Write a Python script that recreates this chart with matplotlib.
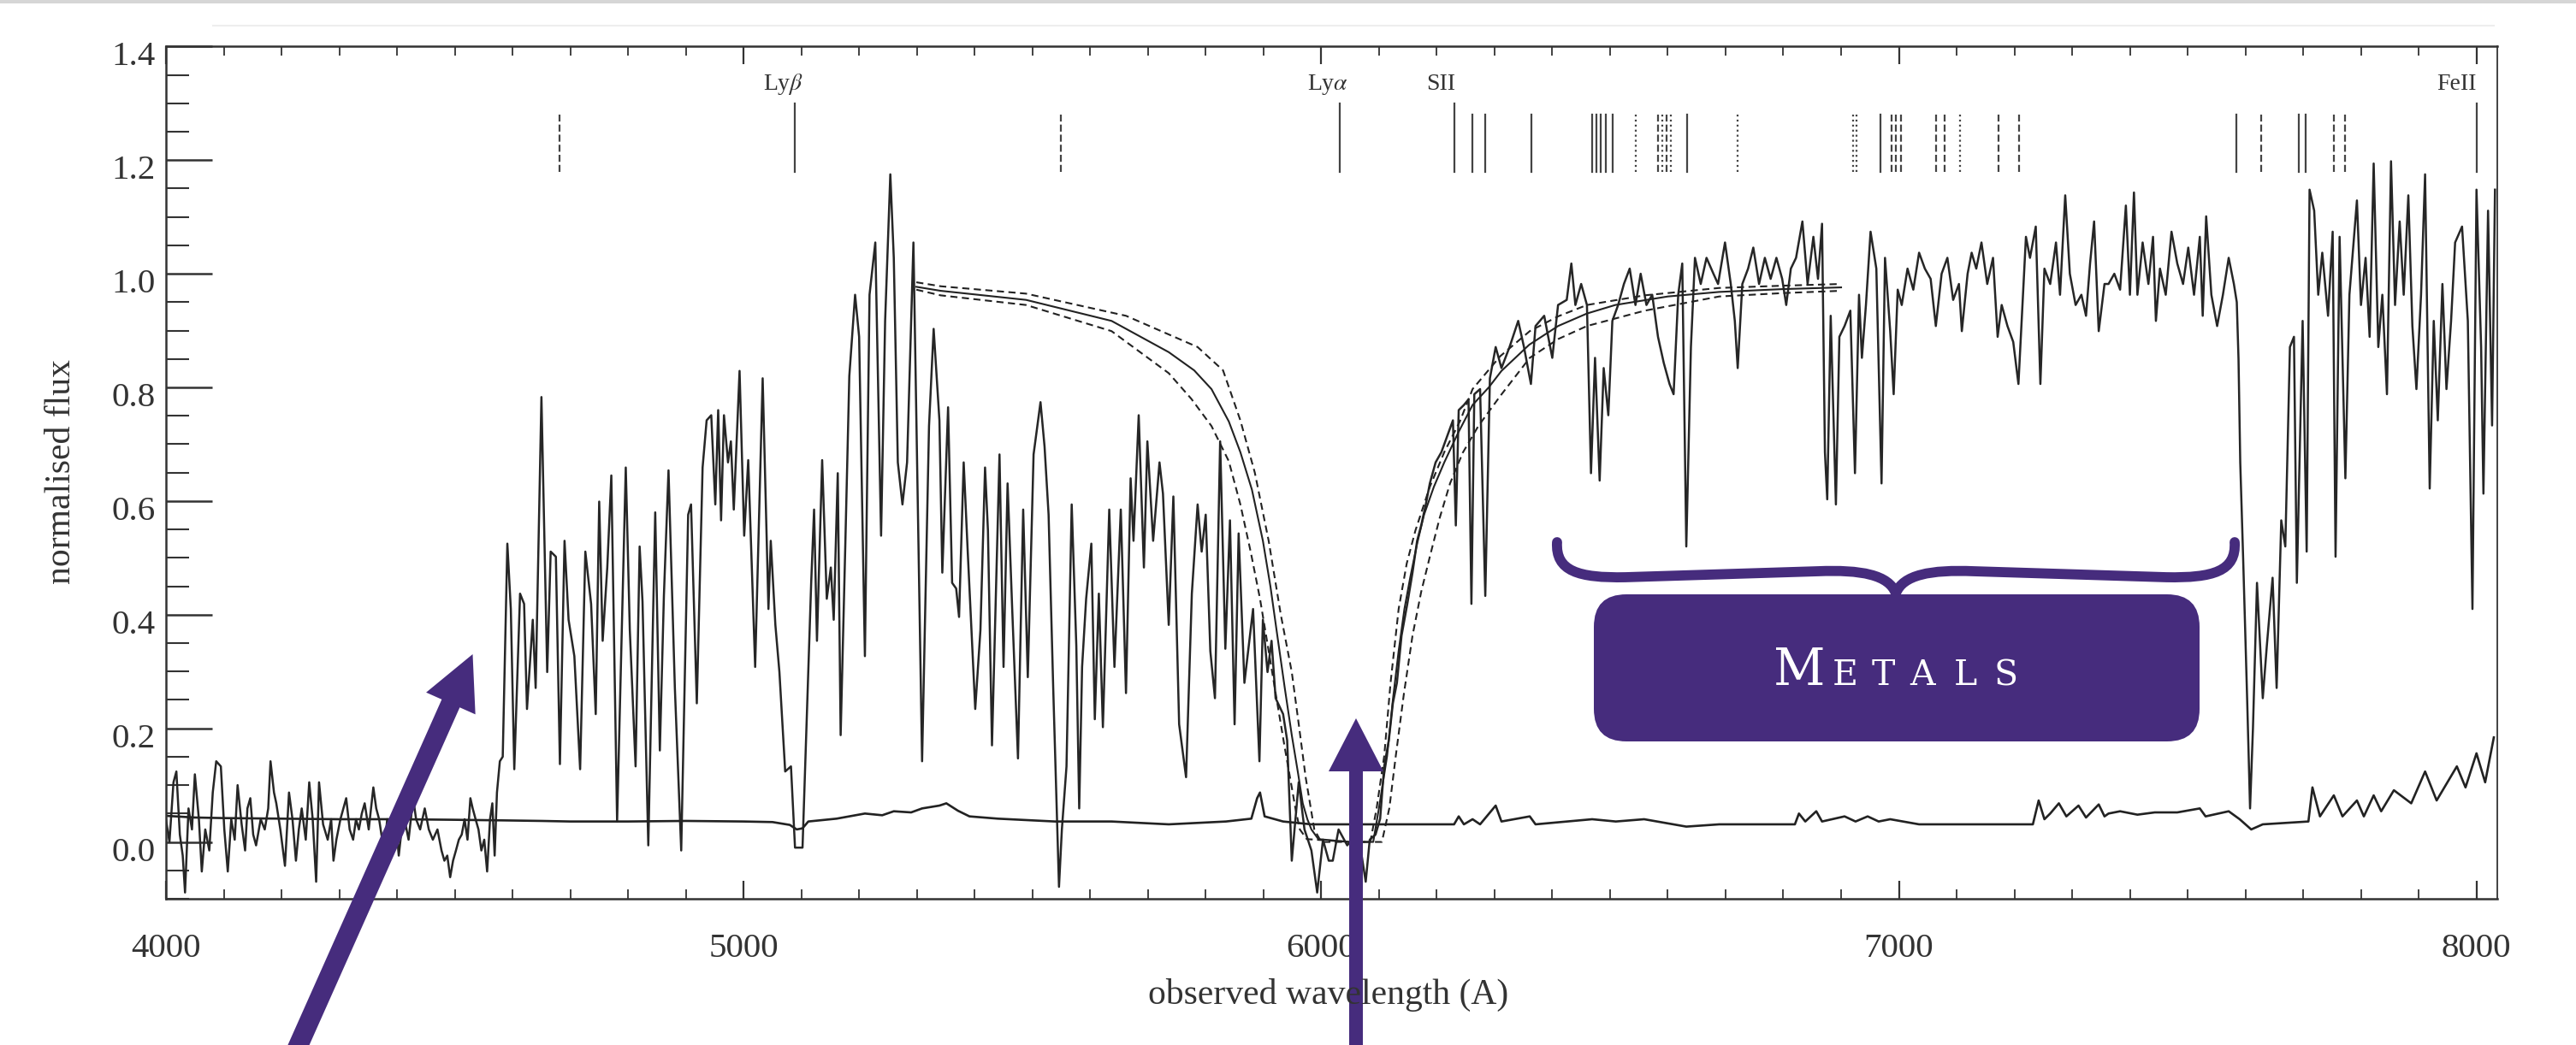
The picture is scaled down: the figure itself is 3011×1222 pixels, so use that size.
import matplotlib
matplotlib.use('Agg')
import matplotlib.pyplot as plt
import matplotlib.transforms as mtransforms
from matplotlib.patches import FancyArrow, FancyBboxPatch, PathPatch, Rectangle
from matplotlib.path import Path
from matplotlib.ticker import MultipleLocator, FormatStrFormatter

W, H = 3011, 1222
purple = '#462c7d'
ink = '#333333'

# observed spectrum (wavelength in A, normalised flux)
spectrum = [
    (4000, 0.040), (4006, 0.000), (4013, 0.105), (4018, 0.124), (4024, 0.013), (4029, -0.024), (4033, -0.089),
    (4039, 0.059), (4045, 0.022), (4050, 0.119), (4057, 0.040), (4062, -0.052), (4068, 0.022), (4075, -0.015),
    (4081, 0.087), (4087, 0.142), (4095, 0.133), (4101, 0.022), (4107, -0.052), (4113, 0.040), (4119, 0.004),
    (4124, 0.100), (4131, 0.031), (4137, -0.015), (4141, 0.059), (4146, 0.077), (4151, 0.013), (4156, -0.006),
    (4164, 0.040), (4171, 0.022), (4177, 0.059), (4181, 0.142), (4187, 0.087), (4191, 0.068), (4198, 0.022),
    (4206, -0.042), (4213, 0.087), (4219, 0.040), (4225, -0.033), (4230, 0.022), (4235, 0.059), (4242, 0.004),
    (4248, 0.105), (4254, 0.040), (4260, -0.070), (4265, 0.105), (4272, 0.031), (4280, 0.004), (4286, 0.040),
    (4290, -0.033), (4295, 0.004), (4302, 0.040), (4312, 0.077), (4318, 0.022), (4324, 0.004), (4329, 0.040),
    (4334, 0.022), (4339, 0.050), (4344, 0.068), (4351, 0.022), (4359, 0.096), (4364, 0.059), (4369, 0.040),
    (4373, 0.013), (4378, -0.015), (4383, 0.040), (4388, 0.022), (4396, 0.059), (4403, -0.024), (4408, 0.022),
    (4413, 0.040), (4420, 0.004), (4428, 0.077), (4433, 0.040), (4440, 0.022), (4448, 0.059), (4455, 0.022),
    (4462, 0.004), (4470, 0.022), (4477, -0.015), (4482, -0.033), (4487, -0.024), (4492, -0.062), (4497, -0.033),
    (4502, -0.015), (4507, 0.004), (4512, 0.013), (4517, 0.040), (4522, 0.004), (4527, 0.077), (4531, 0.059),
    (4536, 0.040), (4541, 0.022), (4546, -0.015), (4551, 0.004), (4556, -0.052), (4561, 0.040), (4565, 0.068),
    (4569, -0.024), (4573, 0.087), (4578, 0.142), (4583, 0.150), (4591, 0.525), (4597, 0.410), (4603, 0.128),
    (4613, 0.437), (4620, 0.419), (4625, 0.234), (4635, 0.391), (4640, 0.271), (4650, 0.783), (4660, 0.299),
    (4666, 0.511),
    (4675, 0.502), (4682, 0.137), (4690, 0.530), (4697, 0.391), (4707, 0.327), (4717, 0.128), (4726, 0.511),
    (4736, 0.419), (4744, 0.225), (4750, 0.599), (4756, 0.354), (4764, 0.483), (4771, 0.645), (4781, 0.036),
    (4796, 0.659), (4803, 0.373), (4813, 0.133), (4820, 0.520), (4825, 0.423), (4835, -0.006), (4847, 0.580),
    (4855, 0.161), (4862, 0.433), (4870, 0.654), (4881, 0.271), (4892, -0.015), (4904, 0.576), (4909, 0.594),
    (4919, 0.244), (4929, 0.659), (4936, 0.742), (4944, 0.751), (4951, 0.594), (4956, 0.760), (4961, 0.566),
    (4966, 0.751), (4973, 0.668), (4978, 0.705), (4983, 0.585), (4993, 0.829), (5001, 0.539), (5008, 0.672),
    (5020, 0.308), (5033, 0.816), (5043, 0.410), (5047, 0.530), (5055, 0.382), (5062, 0.299), (5072, 0.124),
    (5082, 0.133), (5089, -0.010), (5102, -0.010), (5109, 0.207), (5117, 0.456), (5122, 0.585), (5127, 0.354),
    (5136, 0.672), (5144, 0.428), (5151, 0.483), (5156, 0.391), (5163, 0.649), (5168, 0.188), (5176, 0.520),
    (5183, 0.820), (5193, 0.963), (5200, 0.889), (5210, 0.327), (5218, 0.963), (5228, 1.055), (5238, 0.539),
    (5245, 0.917), (5254, 1.175), (5260, 1.028), (5267, 0.668), (5275, 0.594), (5283, 0.668), (5294, 1.055),
    (5309, 0.142), (5321, 0.732), (5329, 0.903), (5339, 0.742),
    (5344, 0.474), (5354, 0.765), (5361, 0.456), (5368, 0.446), (5373, 0.396), (5381, 0.668), (5388, 0.511),
    (5401, 0.234), (5410, 0.373), (5418, 0.659), (5423, 0.548), (5430, 0.170), (5443, 0.682), (5450, 0.308),
    (5457, 0.631), (5465, 0.410), (5475, 0.147), (5484, 0.585), (5492, 0.290), (5502, 0.682), (5514, 0.774),
    (5521, 0.696), (5528, 0.576), (5536, 0.271), (5546, -0.079), (5551, 0.022), (5559, 0.133), (5568, 0.594),
    (5576, 0.345), (5581, 0.059), (5586, 0.308), (5593, 0.428), (5602, 0.525), (5608, 0.216), (5615, 0.437),
    (5622, 0.202), (5633, 0.585), (5642, 0.308), (5653, 0.585), (5662, 0.262), (5670, 0.640), (5675, 0.530),
    (5684, 0.751), (5693, 0.483), (5699, 0.705), (5709, 0.530), (5720, 0.668), (5726, 0.613), (5736, 0.382),
    (5744, 0.608), (5754, 0.207), (5766, 0.114), (5776, 0.437), (5786, 0.594), (5793, 0.511), (5800, 0.576),
    (5808, 0.336), (5816, 0.253), (5825, 0.705), (5834, 0.340), (5842, 0.566), (5850, 0.207), (5857, 0.543),
    (5867, 0.280), (5882, 0.410), (5893, 0.142), (5899, 0.391), (5907, 0.299), (5914, 0.354), (5921, 0.253),
    (5934, 0.225), (5941, 0.179), (5949, -0.033), (5961, 0.105), (5971, 0.022), (5983, -0.015), (5993, -0.089),
    (6003, 0.004), (6013, -0.033),
    (6020, -0.033), (6030, 0.022), (6045, -0.006), (6060, 0.013), (6070, -0.024), (6077, -0.070), (6084, 0.004),
    (6094, 0.013), (6102, 0.041), (6109, 0.133), (6117, 0.179), (6124, 0.244), (6131, 0.280), (6139, 0.363),
    (6149, 0.419), (6158, 0.474), (6166, 0.530), (6173, 0.557), (6181, 0.594), (6188, 0.631), (6198, 0.668),
    (6208, 0.686), (6218, 0.714), (6228, 0.742), (6233, 0.557), (6238, 0.760), (6247, 0.769), (6255, 0.779),
    (6260, 0.419), (6265, 0.788), (6275, 0.797), (6284, 0.433), (6292, 0.816), (6302, 0.871), (6312, 0.834),
    (6326, 0.871), (6341, 0.917), (6351, 0.871), (6363, 0.806), (6371, 0.908), (6386, 0.926), (6400, 0.852),
    (6410, 0.945), (6425, 0.954), (6433, 1.018), (6440, 0.945), (6450, 0.982), (6460, 0.945), (6467, 0.649),
    (6474, 0.852), (6482, 0.636), (6489, 0.834), (6497, 0.751), (6504, 0.917), (6514, 0.945), (6524, 0.982),
    (6534, 1.009), (6544, 0.945), (6553, 1.000), (6563, 0.945), (6573, 0.963), (6583, 0.889), (6593, 0.843),
    (6603, 0.806), (6610, 0.788), (6618, 0.963), (6625, 1.018), (6632, 0.520), (6640, 0.871), (6647, 1.028),
    (6657, 0.982), (6667, 1.028), (6679, 1.000), (6687, 0.982),
    (6699, 1.055), (6709, 0.982), (6716, 0.917), (6721, 0.834), (6729, 0.982), (6739, 1.009), (6748, 1.046),
    (6758, 0.982), (6768, 1.028), (6778, 0.991), (6788, 1.028), (6798, 0.991), (6805, 0.945), (6813, 1.009),
    (6822, 1.028), (6833, 1.092), (6842, 0.982), (6852, 1.065), (6860, 0.991), (6867, 1.088), (6872, 0.686),
    (6876, 0.603), (6882, 0.926), (6891, 0.594), (6897, 0.889), (6906, 0.908), (6916, 0.935), (6924, 0.649),
    (6931, 0.963), (6936, 0.852), (6943, 0.945), (6951, 1.074), (6961, 1.009), (6970, 0.631), (6976, 1.028),
    (6985, 0.899), (6991, 0.788), (6998, 0.972), (7005, 0.945), (7015, 1.009), (7025, 0.972), (7035, 1.037),
    (7045, 1.009), (7055, 0.991), (7064, 0.908), (7074, 1.000), (7084, 1.028), (7094, 0.954), (7104, 0.982),
    (7109, 0.899), (7119, 1.000), (7126, 1.037), (7134, 1.009), (7143, 1.055), (7153, 0.982), (7163, 1.028),
    (7171, 0.889), (7178, 0.945), (7188, 0.908), (7198, 0.880), (7207, 0.806), (7213, 0.926), (7220, 1.065),
    (7227, 1.028), (7237, 1.083), (7245, 0.806), (7252, 1.009), (7262, 0.982), (7272, 1.055), (7279, 0.963),
    (7288, 1.138), (7296, 1.000), (7306, 0.945), (7316, 0.963), (7324, 0.926), (7331, 1.018), (7338, 1.092),
    (7346, 0.899), (7356, 0.982),
    (7363, 0.982), (7373, 1.000), (7383, 0.972), (7393, 1.120), (7400, 0.963), (7407, 1.143), (7413, 0.963),
    (7422, 1.055), (7432, 0.982), (7440, 1.065), (7445, 0.917), (7452, 1.009), (7462, 0.963), (7472, 1.074),
    (7482, 1.018), (7492, 0.982), (7501, 1.046), (7511, 0.963), (7521, 1.065), (7526, 0.926), (7532, 1.101),
    (7541, 0.963), (7551, 0.908), (7561, 0.963), (7571, 1.028), (7580, 0.982), (7585, 0.950), (7588, 0.850),
    (7591, 0.668), (7596, 0.500), (7603, 0.250), (7608, 0.059), (7613, 0.200), (7620, 0.456), (7630, 0.253),
    (7637, 0.345), (7647, 0.465), (7654, 0.271), (7662, 0.566), (7669, 0.520), (7677, 0.871), (7684, 0.889),
    (7689, 0.456), (7699, 0.917), (7706, 0.511), (7711, 1.148), (7719, 1.111), (7726, 0.963), (7733, 1.037),
    (7743, 0.926), (7751, 1.074), (7756, 0.502), (7763, 1.065), (7773, 0.640), (7780, 0.963), (7793, 1.129),
    (7800, 0.945), (7808, 1.028), (7815, 0.889), (7822, 1.194), (7830, 0.871), (7837, 0.963), (7845, 0.788),
    (7852, 1.198), (7859, 0.945), (7867, 1.092), (7874, 0.963), (7882, 1.138), (7889, 0.908), (7896, 0.797),
    (7904, 0.963), (7911, 1.175), (7919, 0.622), (7926, 0.917), (7933, 0.742), (7941, 0.982), (7948, 0.797),
    (7956, 0.917), (7963, 1.055), (7975, 1.083), (7985, 0.917), (7993, 0.410), (8000, 1.148), (8008, 0.871),
    (8012, 0.613), (8020, 1.111), (8027, 0.733), (8032, 1.148),
]

# error spectrum
error = [
    (4000, 0.046), (4050, 0.043), (4100, 0.042), (4200, 0.041), (4300, 0.040), (4400, 0.040), (4500, 0.039),
    (4580, 0.038), (4650, 0.037), (4700, 0.036), (4800, 0.036), (4900, 0.037), (5000, 0.036), (5050, 0.035),
    (5080, 0.030), (5092, 0.022), (5102, 0.024), (5112, 0.036), (5161, 0.041), (5210, 0.050), (5240, 0.047),
    (5260, 0.054), (5290, 0.052), (5309, 0.059), (5339, 0.064), (5351, 0.068), (5371, 0.055), (5391, 0.045),
    (5440, 0.041), (5539, 0.036), (5637, 0.036), (5736, 0.031), (5835, 0.036), (5879, 0.041), (5889, 0.077),
    (5894, 0.087), (5902, 0.045), (5934, 0.036), (5983, 0.031), (6013, 0.031), (6230, 0.031), (6238, 0.045),
    (6247, 0.031), (6262, 0.040), (6275, 0.031), (6302, 0.064), (6312, 0.036), (6361, 0.045), (6371, 0.031),
    (6469, 0.040), (6510, 0.036), (6559, 0.040), (6632, 0.027), (6689, 0.031), (6820, 0.031), (6827, 0.050),
    (6838, 0.036), (6857, 0.054), (6867, 0.036), (6906, 0.045), (6925, 0.036), (6946, 0.045), (6965, 0.036),
    (6985, 0.040), (7035, 0.031), (7232, 0.031), (7242, 0.073), (7252, 0.040), (7262, 0.050), (7277, 0.068),
    (7290, 0.045), (7311, 0.064), (7324, 0.043), (7346, 0.066), (7356, 0.045), (7363, 0.050), (7383, 0.054),
    (7413, 0.048), (7443, 0.052), (7482, 0.052), (7521, 0.059), (7531, 0.045), (7571, 0.054), (7590, 0.040),
    (7610, 0.022), (7630, 0.031), (7709, 0.036), (7716, 0.096), (7729, 0.045), (7753, 0.082), (7768, 0.045),
    (7793, 0.073), (7805, 0.045), (7822, 0.082), (7835, 0.054), (7857, 0.091), (7887, 0.068), (7911, 0.124),
    (7931, 0.073), (7966, 0.133), (7981, 0.096), (8000, 0.156), (8015, 0.105), (8030, 0.184),
]

# damped Lyman-alpha fit and its two error profiles
dla_fit = [
    (5299, 0.977), (5341, 0.970), (5489, 0.954), (5637, 0.917), (5736, 0.862), (5780, 0.830), (5810, 0.797),
    (5840, 0.740), (5860, 0.686), (5880, 0.620), (5899, 0.530), (5912, 0.450), (5924, 0.363), (5937, 0.270),
    (5949, 0.188), (5960, 0.120), (5968, 0.068), (5976, 0.040), (5983, 0.022), (5995, 0.005), (6050, 0.0),
    (6090, 0.0), (6100, 0.060), (6114, 0.151), (6124, 0.250), (6134, 0.336), (6144, 0.410), (6154, 0.465),
    (6166, 0.525), (6178, 0.576), (6195, 0.625), (6213, 0.668), (6237, 0.720), (6262, 0.769), (6290, 0.800),
    (6312, 0.829), (6360, 0.875), (6410, 0.908), (6460, 0.930), (6509, 0.945), (6600, 0.960), (6689, 0.968),
    (6800, 0.973), (6900, 0.976),
]
dla_low_n = [
    (5299, 0.985), (5341, 0.978), (5489, 0.965), (5662, 0.926), (5786, 0.871), (5830, 0.830), (5860, 0.742),
    (5885, 0.650), (5909, 0.530), (5930, 0.400), (5949, 0.299), (5962, 0.200), (5973, 0.114), (5988, 0.022),
    (6000, 0.0), (6050, 0.0), (6085, 0.0), (6096, 0.060), (6109, 0.151), (6120, 0.280), (6134, 0.410),
    (6148, 0.490), (6163, 0.548), (6188, 0.625), (6213, 0.686), (6240, 0.740), (6262, 0.797), (6310, 0.855),
    (6361, 0.899), (6410, 0.925), (6460, 0.945), (6560, 0.962), (6689, 0.975), (6800, 0.979), (6900, 0.982),
]
dla_high_n = [
    (5299, 0.972), (5341, 0.962), (5489, 0.945), (5637, 0.899), (5736, 0.825), (5775, 0.780), (5810, 0.732),
    (5840, 0.670), (5860, 0.594), (5878, 0.510), (5894, 0.428), (5910, 0.330), (5924, 0.244), (5937, 0.165),
    (5949, 0.096), (5956, 0.055), (5963, 0.022), (5975, 0.005), (6050, 0.0), (6105, 0.0), (6118, 0.060),
    (6129, 0.151), (6143, 0.260), (6158, 0.363), (6173, 0.440), (6188, 0.502), (6205, 0.570), (6223, 0.631),
    (6245, 0.685), (6272, 0.732), (6310, 0.785), (6361, 0.852), (6410, 0.885), (6460, 0.908), (6560, 0.935),
    (6689, 0.960), (6800, 0.966), (6900, 0.970),
]

# absorption line markers at the top
line_waves = [4682, 5089, 5549, 6032, 6231, 6261, 6284, 6364, 6469, 6477, 6484, 6492, 6504, 6544,
              6583, 6591, 6598, 6605, 6633, 6721, 6920, 6926, 6968, 6988, 6995, 7003, 7064, 7079,
              7106, 7173, 7208, 7585, 7627, 7692, 7704, 7753, 7773, 8000]
line_styles = ['--', '-', '--', '-', '-', '-', '-', '-', '-', '-', '-', '-', '-', ':',
               '--', ':', '--', ':', '-', ':', ':', ':', '-', '--', '--', '--', '--', '--',
               ':', '--', '--', '-', '--', '-', '-', '--', '--', '-']
label_names = [r'Ly$\beta$', r'Ly$\alpha$', 'SII', 'FeII']
label_lines = [5089, 6032, 6231, 8000]
label_x = [5068, 6012, 6207, 7966]

plt.rcParams['font.family'] = ['Liberation Serif', 'DejaVu Serif']
plt.rcParams['mathtext.fontset'] = 'stix'

fig = plt.figure(figsize=(W / 100, H / 100), dpi=100)
px = mtransforms.Affine2D().scale(1 / W, -1 / H).translate(0, 1) + fig.transFigure

fig.add_artist(Rectangle((0, 0), W, 4, transform=px, color='#d6d6d6', lw=0))
fig.add_artist(plt.Line2D([249, 2915], [30, 30], transform=px, color='#eeeeee', lw=1.5))

ax = fig.add_axes([194 / W, 1 - 1051 / H, (2919 - 194) / W, (1051 - 54) / H])

wave = [p[0] for p in spectrum]
flux = [p[1] for p in spectrum]
ax.plot(wave, flux, color='#262626', lw=1.8)
ax.plot([p[0] for p in error], [p[1] for p in error], color='#222222', lw=1.9)
ax.plot([p[0] for p in dla_fit], [p[1] for p in dla_fit], color='#222222', lw=1.5)
for prof in (dla_low_n, dla_high_n):
    ax.plot([p[0] for p in prof], [p[1] for p in prof], color='#222222', lw=1.5, ls=(0, (4, 2.5)))

for w, s in zip(line_waves, line_styles):
    top = 1.30 if w in label_lines else 1.28
    ax.plot([w, w], [1.18, top], color='#444444', lw=1.6, ls=s)
for name, x in zip(label_names, label_x):
    ax.text(x, 1.333, name, ha='center', va='center', fontsize=20, color=ink)

ax.set_xlim(4000, 8036)
ax.set_ylim(-0.1, 1.4005)
ax.xaxis.set_major_locator(MultipleLocator(1000))
ax.xaxis.set_minor_locator(MultipleLocator(100))
ax.yaxis.set_major_locator(MultipleLocator(0.2))
ax.yaxis.set_minor_locator(MultipleLocator(0.05))
ax.yaxis.set_major_formatter(FormatStrFormatter('%.1f'))
for s in ax.spines.values():
    s.set_color(ink)
    s.set_linewidth(1.8)
ax.spines['right'].set_linewidth(1.3)
ax.tick_params(axis='x', which='both', direction='in', top=True, bottom=True,
               labelsize=29.5, pad=29, colors=ink)
ax.tick_params(axis='x', which='major', length=15, width=1.6)
ax.tick_params(axis='x', which='minor', length=8, width=1.3)
ax.tick_params(axis='y', which='both', direction='in', left=True, right=False,
               labelsize=29.5, pad=9, colors=ink)
ax.tick_params(axis='y', which='major', length=39, width=1.8)
ax.tick_params(axis='y', which='minor', length=19.5, width=1.5)

# y tick labels sit a little below their ticks in the original
shift = mtransforms.ScaledTranslation(0, -0.08, fig.dpi_scale_trans)
for lab in ax.get_yticklabels():
    lab.set_transform(lab.get_transform() + shift)

fig.text(1553 / W, 1 - 1163 / H, 'observed wavelength (A)', ha='center', va='center', fontsize=30, color=ink)
fig.text(72 / W, 1 - 552 / H, 'normalised flux', ha='center', va='center', rotation=90, fontsize=30, color=ink)

# slide annotations
fig.add_artist(FancyArrow(341, 1240, 552.5 - 341, 765 - 1240, width=23, head_width=63, head_length=63,
                          length_includes_head=True, transform=px, color=purple, lw=0))
fig.add_artist(FancyArrow(1585, 1240, 0, 840 - 1240, width=16, head_width=64, head_length=62,
                          length_includes_head=True, transform=px, color=purple, lw=0))

brace = Path(
    [(1820, 634), (1818, 668), (1845, 676), (1900, 675), (2125, 668),
     (2175, 666), (2208, 672), (2216, 694),
     (2224, 672), (2257, 666), (2307, 668), (2532, 675),
     (2587, 676), (2614, 668), (2612, 634)],
    [Path.MOVETO, Path.CURVE4, Path.CURVE4, Path.CURVE4, Path.LINETO,
     Path.CURVE4, Path.CURVE4, Path.CURVE4,
     Path.CURVE4, Path.CURVE4, Path.CURVE4, Path.LINETO,
     Path.CURVE4, Path.CURVE4, Path.CURVE4])
fig.add_artist(PathPatch(brace, transform=px, fill=False, edgecolor=purple, lw=8.5,
                         capstyle='round', joinstyle='round'))

fig.add_artist(FancyBboxPatch((1863, 695), 708, 172, boxstyle='round,pad=0,rounding_size=38',
                              transform=px, facecolor=purple, edgecolor='none'))
fig.text(2073 / W, 1 - 801 / H, 'M', fontsize=42.5, family='DejaVu Serif', color='white', ha='left', va='baseline')
for ch, x in zip('ETALS', [2142, 2188, 2232, 2284, 2330]):
    fig.text(x / W, 1 - 801 / H, ch, fontsize=29.5, family='DejaVu Serif', color='white', ha='left', va='baseline')

fig.savefig('out.png', dpi=100)
